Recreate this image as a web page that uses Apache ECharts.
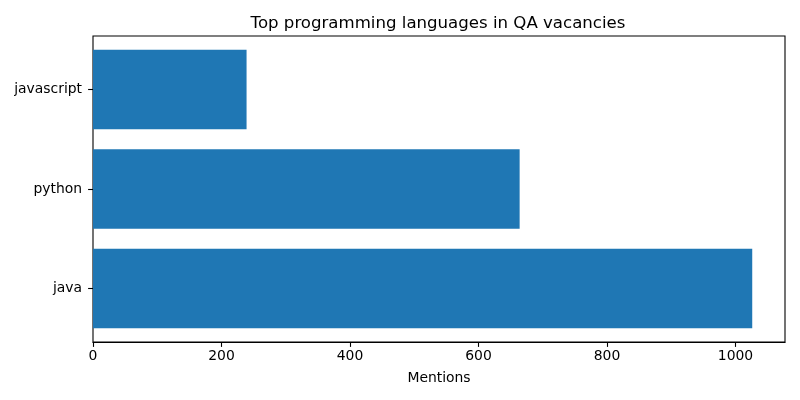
<!DOCTYPE html>
<html>
<head>
<meta charset="utf-8">
<script src="https://cdn.jsdelivr.net/npm/echarts@6/dist/echarts.min.js"></script>
<style>html,body{margin:0;padding:0;background:#fff}#c{width:800px;height:400px}</style>
</head>
<body>
<div id="c"></div>
<script>
const categories = ['java', 'python', 'javascript'];
const mentions = [1026, 664, 239];
const xTicks = [0, 200, 400, 600, 800, 1000];
const xMax = 1077;
const titleText = 'Top programming languages in QA vacancies';
const xName = 'Mentions';

const font = 'DejaVu Sans';
const chart = echarts.init(document.getElementById('c'), null, {renderer: 'canvas'});
chart.setOption({
  animation: false,
  backgroundColor: '#ffffff',
  title: {
    text: titleText,
    left: 433,
    top: 10,
    textAlign: 'center',
    textStyle: {fontFamily: font, fontSize: 16.6, fontWeight: 'normal', color: '#000'}
  },
  grid: [
    {left: 93, right: 15, top: 36, bottom: 58, show: true, borderColor: '#000', borderWidth: 1.1, backgroundColor: 'transparent'},
    {left: 93, right: 15, top: 39.8, bottom: 61.8, show: false}
  ],
  xAxis: [{
    gridIndex: 0,
    type: 'value',
    min: 0,
    max: xMax,
    name: xName,
    nameLocation: 'middle',
    nameGap: 29,
    nameTextStyle: {fontFamily: font, fontSize: 13.9, color: '#000'},
    axisLine: {show: true, lineStyle: {color: '#000', width: 1.1}},
    axisTick: {show: true, length: 4.9, lineStyle: {color: '#000', width: 1.1}, customValues: xTicks},
    axisLabel: {fontFamily: font, fontSize: 13.9, color: '#000', margin: 7, customValues: xTicks, formatter: v => String(v)},
    splitLine: {show: false}
  }, {
    gridIndex: 1,
    type: 'value',
    min: 0,
    max: xMax,
    show: false
  }],
  yAxis: [{
    gridIndex: 0,
    type: 'value',
    min: 0,
    max: 1,
    show: false
  }, {
    gridIndex: 1,
    type: 'category',
    data: categories,
    axisLine: {show: false},
    axisTick: {show: true, alignWithLabel: true, length: 4.9, lineStyle: {color: '#000', width: 1.1}},
    axisLabel: {fontFamily: font, fontSize: 13.9, color: '#000', margin: 11},
    splitLine: {show: false}
  }],
  series: [{
    type: 'bar',
    xAxisIndex: 1,
    yAxisIndex: 1,
    data: mentions,
    barWidth: '80%',
    itemStyle: {color: '#1f77b4'}
  }]
});
</script>
</body>
</html>
